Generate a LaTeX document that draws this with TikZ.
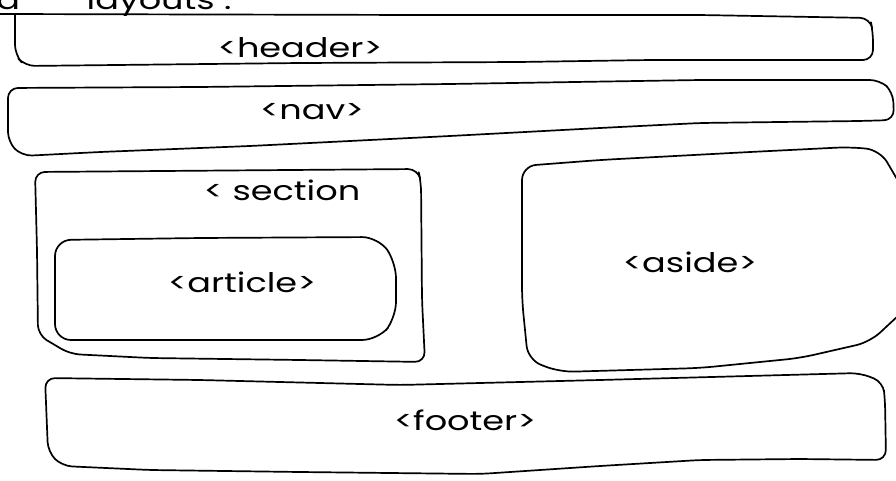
\documentclass[tikz,border=0pt]{standalone}
\usepackage{fontspec}
\setmainfont{Poppins}
\tikzset{
  sketch/.style={line width=1.7pt, line join=round, line cap=round, rounded corners=10pt},
  tag/.style={inner sep=0pt, font=\fontsize{27}{30}\selectfont, xscale=1.3}
}
\begin{document}
\begin{tikzpicture}[x=1pt,y=-1pt]
\useasboundingbox (0,0) rectangle (896,481);
\clip (0,0) rectangle (896,481);
\fill[white] (0,0) rectangle (896,481);

% heading line running off the top edge
\node[tag, anchor=base west] (title) at (-4,10) {d\hspace{1.9em}layouts :};

% header
\draw[sketch] (0,14) -- (420,15) -- (700,15) -- (870,18) -- (873,32) -- (873,60)
  -- (650,60) -- (520,62) -- (300,63) -- (25,66) -- (15,55) -- (15,14);
\node[tag] (header) at (300,48) {<header>};

% nav
\draw[sketch] (8,88) -- (200,87) -- (450,84) -- (700,80) -- (880,80) -- (893,92)
  -- (894,120) -- (860,121) -- (700,123) -- (600,128) -- (450,136) -- (250,146)
  -- (100,152) -- (22,156) -- (8,142) -- cycle;
\node[tag] (nav) at (312,112) {<nav>};

% section with the article inside
\draw[sketch] (35,172) -- (418,169) -- (421,182) -- (422,300) -- (425,362)
  -- (300,360) -- (150,358) -- (70,354) -- (38,335) -- (37,250) -- cycle;
\node[tag] (section) at (282,190) {< section};

\draw[sketch, rounded corners=16pt] (55,240) -- (200,238) -- (378,237) -- (396,262)
  -- (396,318) -- (378,340) -- (250,340) -- (55,340) -- cycle;
\node[tag] (article) at (242,282) {<article>};

% aside
\draw[sketch, rounded corners=14pt] (522,166) -- (600,160) -- (750,152) -- (850,147)
  -- (880,150) -- (915,210) -- (915,300) -- (870,342) -- (800,358) -- (700,368)
  -- (560,372) -- (528,360) -- (522,300) -- cycle;
\node[tag] (aside) at (690,262) {<aside>};

% footer
\draw[sketch] (45,378) -- (200,380) -- (400,385) -- (600,380) -- (860,373)
  -- (883,382) -- (885,400) -- (886,460) -- (800,459) -- (700,460) -- (600,466)
  -- (480,474) -- (300,472) -- (150,470) -- (62,466) -- (48,452) -- cycle;
\node[tag] (footer) at (465,420) {<footer>};
\end{tikzpicture}
\end{document}
